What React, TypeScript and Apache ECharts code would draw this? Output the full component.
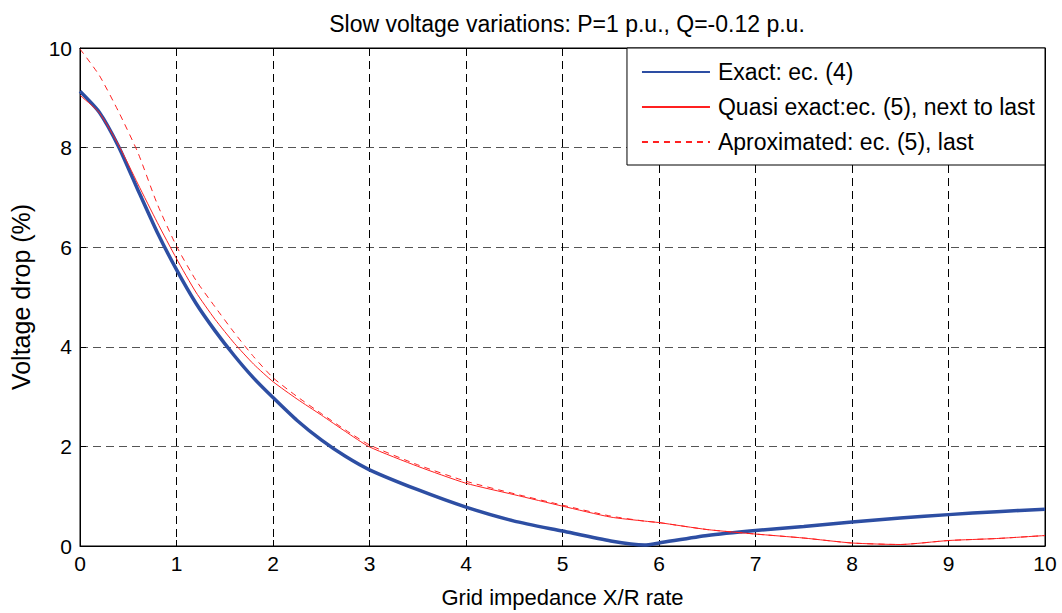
import React, { useEffect, useRef } from "react";
import * as echarts from "echarts";

const xValues = [0, 0.2, 0.4, 0.6, 0.8, 1, 1.2, 1.4, 1.6, 1.8, 2, 2.25, 2.5, 2.75, 3, 3.5, 4, 4.5, 5, 5.5, 5.85, 6, 6.5, 7, 7.5, 8, 8.5, 9, 9.5, 10];
const exactValues = [9.13, 8.71, 8.02, 7.15, 6.3, 5.55, 4.88, 4.32, 3.82, 3.37, 2.98, 2.52, 2.13, 1.8, 1.53, 1.13, 0.78, 0.5, 0.3, 0.1, 0.02, 0.06, 0.21, 0.31, 0.39, 0.48, 0.56, 0.63, 0.69, 0.74];
const quasiValues = [9.05, 8.7, 8.05, 7.27, 6.5, 5.77, 5.1, 4.55, 4.07, 3.65, 3.3, 2.95, 2.63, 2.3, 1.99, 1.6, 1.26, 1.03, 0.8, 0.58, 0.5, 0.47, 0.33, 0.24, 0.16, 0.06, 0.03, 0.11, 0.15, 0.21];
const approxValues = [9.98, 9.45, 8.72, 7.9, 6.87, 6.02, 5.34, 4.8, 4.28, 3.8, 3.38, 3.0, 2.66, 2.33, 2.03, 1.63, 1.3, 1.05, 0.82, 0.6, 0.5, 0.47, 0.33, 0.24, 0.16, 0.06, 0.03, 0.11, 0.15, 0.21];
const seriesNames = ["Exact: ec. (4)", "Quasi exact:ec. (5), next to last", "Aproximated: ec. (5), last"];
const titleText = "Slow voltage variations: P=1 p.u., Q=-0.12 p.u.";
const xName = "Grid impedance X/R rate";
const yName = "Voltage drop (%)";

const FONT = "Liberation Sans, Arial, sans-serif";

export default function App() {
  const ref = useRef<HTMLDivElement>(null);
  useEffect(() => {
    if (!ref.current) return;
    const chart = echarts.init(ref.current, null, { renderer: "svg" });
    const pair = (ys: number[]) => xValues.map((x, i) => [x, ys[i]]);
    chart.setOption({
      animation: false,
      backgroundColor: "#fff",
      textStyle: { fontFamily: FONT },
      title: {
        text: titleText,
        left: 562,
        textAlign: "center",
        top: 7,
        textStyle: { fontSize: 23, fontWeight: "normal", color: "#000", fontFamily: FONT },
      },
      grid: { left: 80, right: 17, top: 48, bottom: 65, show: true, borderColor: "#000", borderWidth: 1, backgroundColor: "transparent" },
      legend: {
        orient: "vertical",
        right: 17,
        top: 48,
        padding: [12, 10, 11, 14],
        backgroundColor: "#fff",
        borderColor: "#000",
        borderWidth: 1,
        itemWidth: 68,
        itemHeight: 14,
        itemGap: 11,
        itemStyle: { opacity: 0 },
        textStyle: { fontSize: 23, lineHeight: 24, color: "#000", fontFamily: FONT, padding: [0, 0, 0, 3] },
        data: seriesNames,
      },
      xAxis: [
        {
          type: "value",
          min: 0,
          max: 10,
          interval: 1,
          name: xName,
          nameLocation: "middle",
          nameGap: 40,
          nameTextStyle: { fontSize: 22, color: "#000" },
          axisLine: { show: true, onZero: false, lineStyle: { color: "#000", width: 1 } },
          axisTick: { show: true, inside: true, length: 6, lineStyle: { color: "#000" } },
          axisLabel: { fontSize: 21, color: "#000", margin: 7 },
          splitLine: { show: true, lineStyle: { color: "#000", type: [8, 5], width: 1 } },
        },
        {
          type: "value",
          position: "top",
          min: 0,
          max: 10,
          interval: 1,
          axisLine: { show: true, onZero: false, lineStyle: { color: "#000" } },
          axisTick: { show: true, inside: true, length: 6, lineStyle: { color: "#000" } },
          axisLabel: { show: false },
          splitLine: { show: false },
        },
      ],
      yAxis: [
        {
          type: "value",
          min: 0,
          max: 10,
          interval: 2,
          name: yName,
          nameLocation: "middle",
          nameGap: 47,
          nameRotate: 90,
          nameTextStyle: { fontSize: 25, color: "#000" },
          axisLine: { show: true, onZero: false, lineStyle: { color: "#000", width: 1 } },
          axisTick: { show: true, inside: true, length: 6, lineStyle: { color: "#000" } },
          axisLabel: { fontSize: 21, color: "#000", margin: 8 },
          splitLine: { show: true, lineStyle: { color: "#555", type: [8, 5], width: 1 } },
        },
        {
          type: "value",
          position: "right",
          min: 0,
          max: 10,
          interval: 2,
          axisLine: { show: true, onZero: false, lineStyle: { color: "#000" } },
          axisTick: { show: true, inside: true, length: 6, lineStyle: { color: "#000" } },
          axisLabel: { show: false },
          splitLine: { show: false },
        },
      ],
      series: [
        {
          name: seriesNames[0],
          type: "line",
          data: pair(exactValues),
          symbol: "none",
          smooth: 0.2,
          color: "#2d4ea3",
          lineStyle: { color: "#2d4ea3", width: 3.5 },
          z: 3,
        },
        {
          name: seriesNames[1],
          type: "line",
          data: pair(quasiValues),
          symbol: "none",
          smooth: 0.2,
          color: "#ff2020",
          lineStyle: { color: "#ff2020", width: 1 },
          z: 4,
        },
        {
          name: seriesNames[2],
          type: "line",
          data: pair(approxValues),
          symbol: "none",
          smooth: 0.2,
          color: "#ff2020",
          lineStyle: { color: "#ff2020", width: 1, type: [6, 5] },
          z: 4,
        },
      ],
    });
    return () => chart.dispose();
  }, []);
  return <div ref={ref} style={{ width: 1062, height: 613, position: "absolute", left: 0, top: 0 }} />;
}
